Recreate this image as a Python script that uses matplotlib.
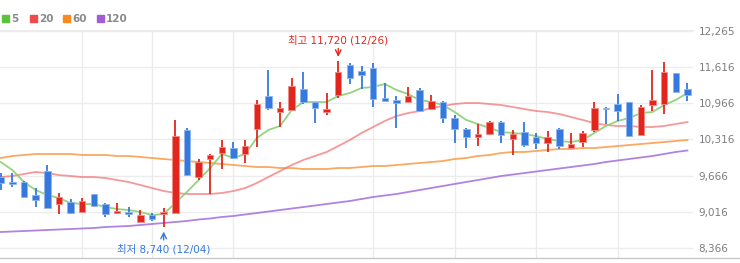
import matplotlib
matplotlib.use("Agg")
import matplotlib.pyplot as plt
from matplotlib.lines import Line2D
from matplotlib.patches import Rectangle
import numpy as np

plt.rcParams['font.family'] = ['DejaVu Sans', 'Noto Sans CJK KR']

# daily candles (open, high, low, close)
opens = [9640, 9550, 9550, 9320, 9750, 9160, 9190, 9010, 9340, 9160,
         8990, 9010, 8830, 8960, 8980, 8990, 10490, 9640, 9970, 10070,
         10160, 10060, 10500, 11100, 10810, 10850, 11220, 10990, 10810, 11120,
         11650, 11550, 11600, 11060, 11030, 10990, 11210, 10860, 10990, 10700,
         10500, 10360, 10410, 10630, 10320, 10450, 10360, 10250, 10500, 10160,
         10270, 10490, 10880, 10950, 10990, 10400, 10940, 10950, 11510, 11220]
highs = [9710, 9710, 9570, 9440, 9860, 9350, 9250, 9260, 9340, 9170,
         9170, 9100, 9050, 8990, 9080, 10670, 10520, 9970, 10050, 10310,
         10270, 10310, 11030, 11560, 10990, 11420, 11530, 10990, 11150, 11720,
         11690, 11640, 11690, 11330, 11100, 11260, 11240, 11120, 11010, 10760,
         10520, 10590, 10650, 10650, 10490, 10630, 10430, 10470, 10520, 10430,
         10470, 10990, 10900, 11130, 10990, 10940, 11560, 11710, 11510, 11330]
lows = [9410, 9460, 9280, 9100, 9080, 8980, 8980, 9010, 9120, 8920,
        8980, 8920, 8830, 8850, 8740, 8990, 9660, 9590, 9340, 9790,
        9970, 9890, 10180, 10850, 10540, 10850, 10950, 10610, 10760, 11060,
        11310, 11220, 10900, 11010, 10520, 10990, 10810, 10860, 10610, 10250,
        10160, 10200, 10400, 10250, 10040, 10180, 10140, 10090, 10140, 10160,
        10180, 10450, 10590, 10650, 10360, 10400, 10830, 10770, 11170, 11010]
closes = [9530, 9515, 9280, 9230, 9080, 9280, 8990, 9210, 9120, 8980,
          9030, 8980, 8960, 8890, 9010, 10380, 9680, 9910, 10040, 10180,
          9980, 10200, 10950, 10880, 10880, 11280, 10990, 10880, 10860, 11530,
          11420, 11470, 11040, 11010, 10970, 11100, 10830, 11010, 10700, 10500,
          10360, 10410, 10630, 10400, 10410, 10220, 10250, 10360, 10200, 10230,
          10430, 10880, 10860, 10830, 10380, 10900, 11030, 11530, 11170, 11110]

# moving average lines
ma5 = [9911, 9767, 9551, 9408, 9318, 9264, 9174, 9156, 9156, 9102,
       9066, 9048, 9012, 8958, 8976, 9174, 9372, 9587, 9803, 10055,
       9983, 10055, 10342, 10486, 10558, 10845, 10989, 10989, 10989, 11097,
       11151, 11241, 11259, 11313, 11205, 11133, 11025, 10989, 10935, 10809,
       10666, 10594, 10522, 10450, 10432, 10414, 10378, 10324, 10288, 10270,
       10306, 10432, 10558, 10648, 10701, 10791, 10809, 10935, 11025, 11151]
ma20 = [9641, 9659, 9695, 9731, 9713, 9677, 9659, 9641, 9641, 9623,
        9587, 9551, 9497, 9443, 9390, 9354, 9336, 9336, 9336, 9354,
        9390, 9443, 9533, 9641, 9748, 9857, 9947, 10019, 10091, 10198,
        10306, 10432, 10540, 10648, 10737, 10791, 10827, 10881, 10917, 10953,
        10971, 10971, 10953, 10935, 10899, 10863, 10827, 10809, 10773, 10720,
        10666, 10611, 10576, 10558, 10558, 10540, 10540, 10558, 10594, 10629]
ma60 = [9983, 10019, 10037, 10055, 10055, 10055, 10055, 10037, 10037, 10037,
        10019, 10019, 10001, 9983, 9965, 9947, 9929, 9911, 9893, 9875,
        9857, 9839, 9821, 9821, 9803, 9803, 9785, 9785, 9785, 9803,
        9803, 9821, 9839, 9839, 9857, 9875, 9893, 9911, 9929, 9965,
        9983, 10019, 10037, 10073, 10091, 10091, 10109, 10127, 10144, 10144,
        10162, 10162, 10180, 10198, 10216, 10234, 10252, 10270, 10288, 10306]
ma120 = [8653, 8662, 8671, 8680, 8689, 8698, 8707, 8716, 8725, 8743,
         8752, 8761, 8779, 8797, 8815, 8833, 8851, 8878, 8896, 8923,
         8941, 8968, 8994, 9021, 9048, 9075, 9102, 9129, 9156, 9183,
         9210, 9246, 9282, 9309, 9336, 9372, 9408, 9444, 9480, 9516,
         9552, 9587, 9623, 9659, 9686, 9713, 9740, 9767, 9794, 9821,
         9848, 9875, 9911, 9938, 9965, 9992, 10019, 10055, 10091, 10118]

y_ticks = [8366, 9016, 9666, 10316, 10966, 11616, 12265]
grid_days = [7, 13, 20, 32, 39, 46, 53]

legend_names = ['5', '20', '60', '120']
legend_colors = ['#5cc23c', '#f04a4a', '#fb8a1c', '#a35bd6']

high_label = '최고 11,720 (12/26)'
low_label = '최저 8,740 (12/04)'

UP = '#e2261e'
DOWN = '#3579df'

W, H = 740, 263
fig = plt.figure(figsize=(W / 100, H / 100), dpi=100)
ax = fig.add_axes([0, 5 / H, 693 / W, 228 / H])

x = np.arange(len(closes))
o = np.array(opens)
c = np.array(closes)

# grid
for t in y_ticks:
    ax.axhline(t, color='#ececec', lw=1.0, zorder=0)
for d in grid_days:
    ax.axvline(d, color='#ececec', lw=1.0, zorder=0)

# moving averages
ax.plot(x, ma120, color='#a46ddb', lw=1.3, alpha=0.85, zorder=2)
ax.plot(x, ma60, color='#f99a44', lw=1.3, alpha=0.85, zorder=2)
ax.plot(x, ma20, color='#f37676', lw=1.3, alpha=0.75, zorder=2)
ax.plot(x, ma5, color='#88d070', lw=1.3, alpha=0.9, zorder=2)

# candles
cols = [UP if c[i] >= o[i] else DOWN for i in range(len(c))]
edges = ['#f08a84' if c[i] >= o[i] else '#8fb6ee' for i in range(len(c))]
ax.vlines(x, lows, highs, colors=cols, lw=1.3, zorder=3)
ax.bar(x, np.abs(c - o), bottom=np.minimum(o, c), width=0.56,
       color=cols, edgecolor=edges, linewidth=0.6, zorder=4)

# high / low markers
i_hi = int(np.argmax(highs))
i_lo = int(np.argmin(lows))
ax.annotate('', xy=(i_hi, highs[i_hi] + 30), xytext=(0, 10),
            textcoords='offset points',
            arrowprops=dict(arrowstyle='->', color=UP, lw=1.0))
ax.annotate(high_label, xy=(i_hi, highs[i_hi]), xytext=(0, 15),
            textcoords='offset points', ha='center', va='center',
            color=UP, fontsize=7.5)
ax.annotate('', xy=(i_lo, lows[i_lo] - 30), xytext=(0, -10),
            textcoords='offset points',
            arrowprops=dict(arrowstyle='->', color=DOWN, lw=1.0))
ax.annotate(low_label, xy=(i_lo, lows[i_lo]), xytext=(0, -16),
            textcoords='offset points', ha='center', va='center',
            color=DOWN, fontsize=7.5)

ax.set_xlim(-0.06, 59.48)
ax.set_ylim(8186, 12283)
ax.set_xticks([])
ax.yaxis.tick_right()
ax.set_yticks(y_ticks)
ax.set_yticklabels([f'{t:,}' for t in y_ticks], color='#7d7d7d',
                   fontsize=7.5)
ax.tick_params(axis='y', length=0, pad=4)
for s in ['left', 'right', 'bottom']:
    ax.spines[s].set_visible(False)
ax.spines['top'].set_color('#ececec')

# bottom line runs the full width
fig.add_artist(Line2D([0, 1], [5 / H, 5 / H], color='#c8c8c8', lw=1.0,
                      transform=fig.transFigure))

# legend
lx = [2, 30, 63, 97]
for name, col, px in zip(legend_names, legend_colors, lx):
    fig.add_artist(Rectangle((px / W, (H - 22) / H), 7 / W, 7 / H,
                             color=col, transform=fig.transFigure))
    fig.text((px + 9) / W, (H - 18.5) / H, name, color='#8a8a8a',
             fontsize=7.5, fontweight='bold', va='center')

fig.savefig('out.png', dpi=100, facecolor='white')
